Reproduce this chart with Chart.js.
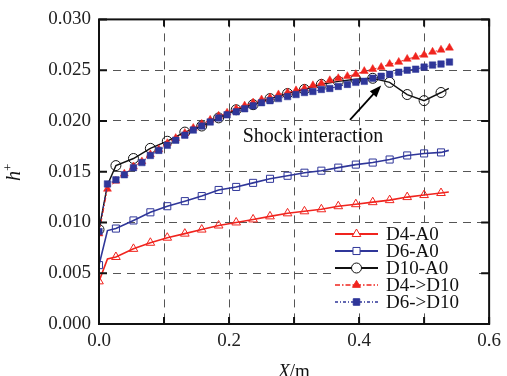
<!DOCTYPE html>
<html>
<head>
<meta charset="utf-8">
<script src="https://cdn.jsdelivr.net/npm/chart.js@4.4.1/dist/chart.umd.min.js"></script>
<style>
  html, body { margin: 0; padding: 0; background: #fff; }
  #wrap { width: 507px; height: 376px; }
</style>
</head>
<body>
<div id="wrap"><canvas id="chart"></canvas></div>
<script>
// hollow-marker runs (every other station gets a marker)
const xCoarse = [0, 0.013, 0.026, 0.053, 0.079, 0.105, 0.132, 0.158, 0.184, 0.211, 0.237, 0.263,
    0.290, 0.316, 0.342, 0.368, 0.395, 0.421, 0.447, 0.474, 0.500, 0.526, 0.538];
const d4a0 = [0.0042, 0.0064, 0.0066, 0.0074, 0.0080, 0.0085, 0.0089, 0.0093, 0.0097, 0.0100, 0.0103, 0.0106,
    0.0109, 0.0111, 0.0113, 0.0116, 0.0118, 0.0120, 0.0122, 0.0125, 0.0127, 0.0129, 0.0130];
const d6a0 = [0.0058, 0.0092, 0.0094, 0.0102, 0.0110, 0.0116, 0.0121, 0.0126, 0.0132, 0.0135, 0.0139, 0.0143,
    0.0146, 0.0149, 0.0151, 0.0154, 0.0157, 0.0159, 0.0162, 0.0166, 0.0168, 0.0169, 0.0171];
const d10a0 = [0.0093, 0.0137, 0.0156, 0.0163, 0.0173, 0.0180, 0.0189, 0.0195, 0.0203, 0.0211, 0.0216, 0.0222,
    0.0227, 0.0231, 0.0236, 0.0239, 0.0241, 0.0242, 0.0238, 0.0226, 0.0220, 0.0228, 0.0232];

// filled-marker runs
const xFine = [0, 0.013, 0.026, 0.039, 0.053, 0.066, 0.079, 0.092, 0.105, 0.118, 0.132, 0.145, 0.158, 0.171,
    0.184, 0.197, 0.211, 0.224, 0.237, 0.250, 0.263, 0.276, 0.290, 0.303, 0.316, 0.329, 0.342, 0.355,
    0.368, 0.382, 0.395, 0.408, 0.421, 0.434, 0.447, 0.461, 0.474, 0.487, 0.500, 0.513, 0.526, 0.539];
const d4d10 = [0.0089, 0.0133, 0.0141, 0.0148, 0.0155, 0.0160, 0.0167, 0.0172, 0.0178, 0.0183, 0.0188, 0.0193,
    0.0197, 0.0201, 0.0205, 0.0208, 0.0212, 0.0215, 0.0218, 0.0221, 0.0223, 0.0226, 0.0228, 0.0230,
    0.0232, 0.0235, 0.0237, 0.0240, 0.0242, 0.0244, 0.0246, 0.0249, 0.0251, 0.0253, 0.0256, 0.0258,
    0.0261, 0.0263, 0.0265, 0.0268, 0.0270, 0.0272];
const d6d10 = [0.0091, 0.0138, 0.0142, 0.0147, 0.0154, 0.0159, 0.0166, 0.0171, 0.0176, 0.0181, 0.0186, 0.0191,
    0.0195, 0.0199, 0.0203, 0.0206, 0.0209, 0.0212, 0.0215, 0.0218, 0.0220, 0.0222, 0.0224, 0.0226,
    0.0228, 0.0229, 0.0231, 0.0232, 0.0234, 0.0236, 0.0238, 0.0239, 0.0242, 0.0244, 0.0246, 0.0248,
    0.0250, 0.0251, 0.0253, 0.0255, 0.0256, 0.0258];

const seriesNames = ['D4-A0', 'D6-A0', 'D10-A0', 'D4->D10', 'D6->D10'];
const xTickStep = 0.1;
const yTickStep = 0.005;
const annotationText = 'Shock interaction';
const arrowFrom = { x: 0.386, y: 0.0201 };
const arrowTo = { x: 0.434, y: 0.0235 };
const textAt = { x: 0.221, y: 0.0179 };

const RED = '#f0241e';
const BLUE = '#2f3699';
const BLACK = '#111111';
const FONT = '"Liberation Serif", "Times New Roman", serif';

const pts = (xs, ys) => xs.map((x, i) => ({ x: x, y: ys[i] }));
// knee point and trailing end point of the hollow runs carry no marker
const coarseRadius = (r) => xCoarse.map((x, i) => (i === 1 || i === xCoarse.length - 1) ? 0 : r);

const datasets = [
    { label: seriesNames[0], data: pts(xCoarse, d4a0), borderColor: RED, backgroundColor: 'rgba(0,0,0,0)',
      pointStyle: 'triangle', pointRadius: coarseRadius(5), borderWidth: 1.6, pointBorderWidth: 1, order: 5 },
    { label: seriesNames[1], data: pts(xCoarse, d6a0), borderColor: BLUE, backgroundColor: 'rgba(0,0,0,0)',
      pointStyle: 'rect', pointRadius: coarseRadius(5), borderWidth: 1.6, pointBorderWidth: 1, order: 4 },
    { label: seriesNames[2], data: pts(xCoarse, d10a0), borderColor: BLACK, backgroundColor: 'rgba(0,0,0,0)',
      pointStyle: 'circle', pointRadius: coarseRadius(5), borderWidth: 1.4, pointBorderWidth: 1, order: 3 },
    { label: seriesNames[3], data: pts(xFine, d4d10), borderColor: RED, backgroundColor: RED,
      pointStyle: 'triangle', pointRadius: 4.6, borderWidth: 1, borderDash: [5, 2, 1.5, 2], pointBorderWidth: 0.5, order: 2 },
    { label: seriesNames[4], data: pts(xFine, d6d10), borderColor: BLUE, backgroundColor: BLUE,
      pointStyle: 'rect', pointRadius: 4.6, borderWidth: 1, borderDash: [3, 2, 1, 2], pointBorderWidth: 0.5, order: 1 }
];

function drawMark(ctx, style, x, y, r, fill, stroke, lw) {
    ctx.save();
    ctx.beginPath();
    if (style === 'triangle') {
        const h = r * 1.5;
        const half = r * Math.sqrt(3) / 2;
        ctx.moveTo(x, y - r);
        ctx.lineTo(x + half, y - r + h);
        ctx.lineTo(x - half, y - r + h);
        ctx.closePath();
    } else if (style === 'rect') {
        const s = r * Math.SQRT1_2;
        ctx.rect(x - s, y - s, 2 * s, 2 * s);
    } else {
        ctx.arc(x, y, r, 0, Math.PI * 2);
    }
    ctx.fillStyle = fill;
    ctx.fill();
    ctx.lineWidth = lw;
    ctx.strokeStyle = stroke;
    ctx.stroke();
    ctx.restore();
}

function drawArrow(ctx, x0, y0, x1, y1) {
    const ang = Math.atan2(y1 - y0, x1 - x0);
    const c = Math.cos(ang), s = Math.sin(ang);
    ctx.save();
    ctx.setLineDash([]);
    ctx.strokeStyle = '#000';
    ctx.fillStyle = '#000';
    ctx.lineWidth = 1.8;
    ctx.beginPath();
    ctx.moveTo(x0, y0);
    ctx.lineTo(x1 - 8 * c, y1 - 8 * s);
    ctx.stroke();
    ctx.beginPath();
    ctx.moveTo(x1, y1);
    ctx.lineTo(x1 - 12 * c + 4.5 * s, y1 - 12 * s - 4.5 * c);
    ctx.lineTo(x1 - 12 * c - 4.5 * s, y1 - 12 * s + 4.5 * c);
    ctx.closePath();
    ctx.fill();
    ctx.restore();
}

const decorations = {
    id: 'decorations',
    beforeDatasetsDraw(chart) {
        // white legend panel over the grid
        const ctx = chart.ctx;
        ctx.save();
        ctx.fillStyle = '#fff';
        ctx.fillRect(331, 223, 148, 88);
        ctx.restore();
    },
    afterDraw(chart) {
        const ctx = chart.ctx;
        const a = chart.chartArea;
        const xs = chart.scales.x;
        const ys = chart.scales.y;
        ctx.save();
        ctx.setLineDash([]);

        // frame
        ctx.strokeStyle = '#111';
        ctx.lineWidth = 2;
        ctx.strokeRect(a.left, a.top, a.right - a.left, a.bottom - a.top);

        // inward ticks on all four sides
        xs.ticks.forEach((t) => {
            const px = xs.getPixelForValue(t.value);
            ctx.beginPath();
            ctx.moveTo(px, a.bottom); ctx.lineTo(px, a.bottom - 7);
            ctx.moveTo(px, a.top); ctx.lineTo(px, a.top + 7);
            ctx.stroke();
        });
        ys.ticks.forEach((t) => {
            const py = ys.getPixelForValue(t.value);
            ctx.beginPath();
            ctx.moveTo(a.left, py); ctx.lineTo(a.left + 8, py);
            ctx.moveTo(a.right, py); ctx.lineTo(a.right - 8, py);
            ctx.stroke();
        });

        // annotation and arrow
        drawArrow(ctx, xs.getPixelForValue(arrowFrom.x), ys.getPixelForValue(arrowFrom.y),
            xs.getPixelForValue(arrowTo.x), ys.getPixelForValue(arrowTo.y));
        ctx.fillStyle = '#111';
        ctx.font = '20px ' + FONT;
        ctx.textAlign = 'left';
        ctx.textBaseline = 'alphabetic';
        ctx.fillText(annotationText, xs.getPixelForValue(textAt.x), ys.getPixelForValue(textAt.y));

        // legend
        const lx0 = 335, lx1 = 378, ly0 = 234, dy = 17;
        datasets.forEach((ds, i) => {
            const y = ly0 + i * dy;
            ctx.save();
            ctx.strokeStyle = ds.borderColor;
            ctx.lineWidth = ds.borderWidth + 0.4;
            ctx.setLineDash(ds.borderDash || []);
            ctx.beginPath();
            ctx.moveTo(lx0, y); ctx.lineTo(lx1, y);
            ctx.stroke();
            ctx.restore();
            const r = i < 3 ? 5 : 4.6;
            drawMark(ctx, ds.pointStyle, (lx0 + lx1) / 2, y, r,
                i < 3 ? '#fff' : ds.backgroundColor, ds.borderColor, 1);
            ctx.fillStyle = '#111';
            ctx.font = '19px ' + FONT;
            ctx.textBaseline = 'middle';
            ctx.fillText(ds.label, 386, y + 1);
        });

        // axis titles
        ctx.textBaseline = 'alphabetic';
        ctx.font = 'italic 19px ' + FONT;
        const xw = ctx.measureText('X').width;
        ctx.font = '19px ' + FONT;
        const mw = ctx.measureText('/m').width;
        const cx = (a.left + a.right) / 2 - (xw + mw) / 2;
        ctx.font = 'italic 19px ' + FONT;
        ctx.fillText('X', cx, 377);
        ctx.font = '19px ' + FONT;
        ctx.fillText('/m', cx + xw, 377);

        ctx.translate(20, 174);
        ctx.rotate(-Math.PI / 2);
        ctx.font = 'italic 20px ' + FONT;
        ctx.textAlign = 'left';
        ctx.fillText('h', -7, 0);
        ctx.font = '13px ' + FONT;
        ctx.fillText('+', 3, -8);
        ctx.restore();
    }
};

Chart.defaults.font.family = FONT;
Chart.defaults.color = '#222';

new Chart(document.getElementById('chart'), {
    type: 'scatter',
    data: { datasets: datasets.map((d) => Object.assign({ showLine: true, pointHoverRadius: 0 }, d)) },
    options: {
        responsive: true,
        maintainAspectRatio: false,
        animation: false,
        layout: { padding: { top: 17, right: 15, left: 0, bottom: 0 } },
        plugins: { legend: { display: false }, tooltip: { enabled: false } },
        scales: {
            x: {
                type: 'linear', min: 0, max: 0.6,
                afterFit: (s) => { s.height = 52; },
                ticks: {
                    stepSize: xTickStep, padding: 6, maxRotation: 0,
                    font: { size: 19 }, color: '#222',
                    callback: (v) => (Math.round(v * 10) % 2 === 0 ? v.toFixed(1) : '')
                },
                grid: { color: '#555', lineWidth: 1, drawTicks: false },
                border: { display: false, dash: [8, 6] }
            },
            y: {
                type: 'linear', min: 0, max: 0.03,
                afterFit: (s) => { s.width = 99; },
                ticks: {
                    stepSize: yTickStep, padding: 8,
                    font: { size: 19 }, color: '#222',
                    callback: (v) => v.toFixed(3)
                },
                grid: { color: '#555', lineWidth: 1, drawTicks: false },
                border: { display: false, dash: [8, 6] }
            }
        }
    },
    plugins: [decorations]
});
</script>
</body>
</html>
